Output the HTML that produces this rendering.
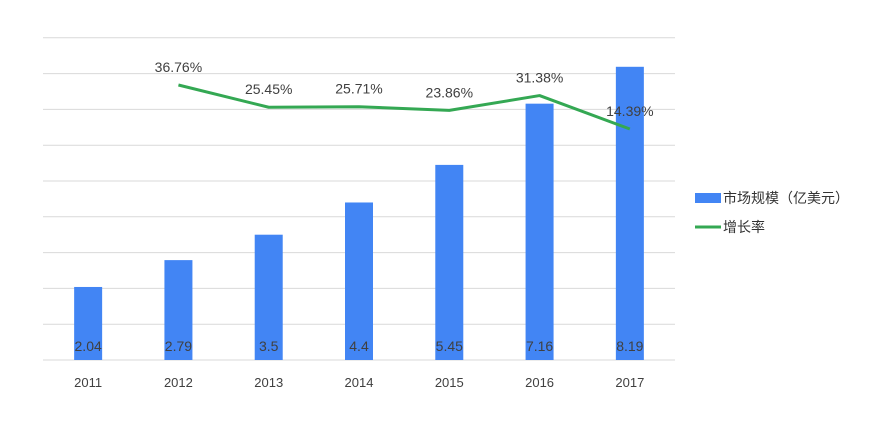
<!DOCTYPE html>
<html><head><meta charset="utf-8"><style>
body{margin:0;background:#fff;}
svg text{font-family:"Liberation Sans","Noto Sans CJK SC",sans-serif;}
</style></head><body>
<svg width="882" height="438" xmlns="http://www.w3.org/2000/svg">
<g id="grid"></g><g id="bars"></g><g id="line"></g><g id="labels"></g>
<g>
<rect x="695" y="193" width="26" height="10" fill="#4285f4"/>
<text x="723" y="203" font-size="14" fill="#333">市场规模（亿美元）</text>
<line x1="695" y1="227" x2="721" y2="227" stroke="#34a853" stroke-width="3"/>
<text x="723" y="232" font-size="14" fill="#333">增长率</text>
</g>
</svg>
<script>
const categories=["2011","2012","2013","2014","2015","2016","2017"];
const marketSize=[2.04,2.79,3.5,4.4,5.45,7.16,8.19];
const growth=[null,36.76,25.45,25.71,23.86,31.38,14.39];
const ns="http://www.w3.org/2000/svg";
const x0=43,x1=675,yBase=360,unit=35.8;
const bw=(x1-x0)/categories.length;
const xc=i=>x0+bw*(i+0.5);
const yv=v=>yBase-v*unit;
const yg=v=>157.3-1.967*v;
function mk(t,a,p){const e=document.createElementNS(ns,t);for(const k in a)e.setAttribute(k,a[k]);p.appendChild(e);return e;}
const G=document.getElementById('grid'),B=document.getElementById('bars'),L=document.getElementById('line'),T=document.getElementById('labels');
for(let v=0;v<=9;v++){
 const l=mk('line',{x1:x0,x2:x1,y1:yv(v),y2:yv(v),stroke:'#d9d9d9','stroke-width':1},G);
 
 
}
categories.forEach((c,i)=>{
 const r=mk('rect',{x:xc(i)-14,y:yv(marketSize[i]),width:28,height:marketSize[i]*unit,fill:'#4285f4'},B);
 
 
 const t=mk('text',{x:xc(i),y:351,'text-anchor':'middle','font-size':14,fill:'#404040'},T);
 t.textContent=marketSize[i];
 
 
 const a=mk('text',{x:xc(i),y:387,'text-anchor':'middle','font-size':13,fill:'#404040'},T);
 a.textContent=c;
 
 
});
let pts=[];
growth.forEach((g,i)=>{if(g!==null){pts.push(xc(i)+','+yg(g));
 const t=mk('text',{x:xc(i),y:yg(g)-13,'text-anchor':'middle','font-size':14,fill:'#404040'},T);
 t.textContent=g.toFixed(2)+'%';
 
 }});
const pl=mk('polyline',{points:pts.join(' '),fill:'none',stroke:'#34a853','stroke-width':3,'stroke-linejoin':'round'},L);


</script>
</body></html>
